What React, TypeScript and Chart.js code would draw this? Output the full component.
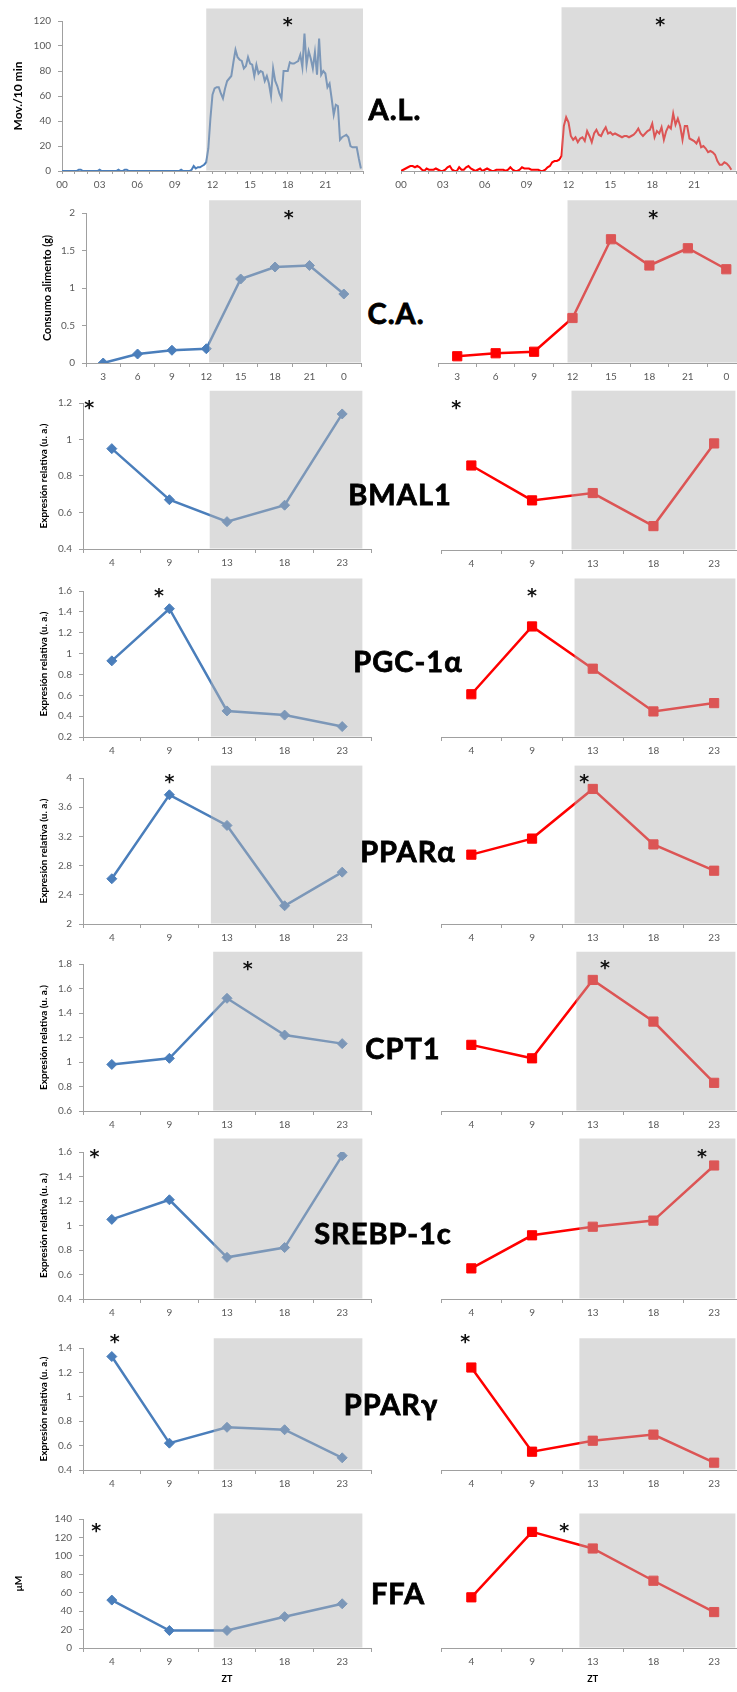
import React, { useEffect, useRef } from "react";
import { Chart, registerables } from "chart.js";

Chart.register(...registerables);

const FONT = "Lato, 'Open Sans', 'DejaVu Sans', sans-serif";
const BLUE = "#4a7ebb";
const RED = "#ff0000";
const AXIS = "#a0a0a0";
const TICK = "#595959";
const SHADE = "rgba(181,181,181,0.47)";

// ---------------- data ----------------
// A.L. : movements per 10 min bin, 24 h (bin index / 6 = hour)
const alTickHours = [0, 3, 6, 9, 12, 15, 18, 21];
const alTickLabels = ["00", "03", "06", "09", "12", "15", "18", "21"];
const alYTicks = [0, 20, 40, 60, 80, 100, 120];
const alControl = [
  0, 0, 0, 0, 0, 0, 0, 0, 1, 1,
  0, 0, 0, 0, 0, 0, 0, 0, 1, 0,
  0, 0, 0, 0, 0, 0, 0, 1, 0, 0,
  1, 1, 0, 0, 0, 0, 0, 0, 0, 0,
  0, 0, 0, 0, 0, 0, 0, 0, 0, 0,
  0, 0, 0, 0, 0, 0, 0, 1, 0, 0,
  0, 0, 1, 4, 2, 3, 3, 4, 5, 7,
  18, 42, 61, 66, 67, 67, 62, 58, 66, 72,
  74, 76, 87, 97, 91, 89, 88, 82, 84, 91,
  86, 85, 76, 85, 78, 80, 79, 72, 76, 70,
  60, 82, 72, 68, 62, 58, 80, 80, 80, 87,
  86, 86, 87, 88, 93, 83, 110, 85, 96, 90,
  82, 95, 77, 106, 77, 80, 78, 67, 70, 58,
  45, 53, 52, 25, 27, 28, 29, 27, 20, 19,
  19, 19, 10, 2,
];
const alTreated = [
  0, 1, 2, 3, 4, 4, 3, 4, 3, 1,
  0, 2, 1, 1, 1, 2, 1, 0, 0, 1,
  3, 4, 1, 0, 0, 3, 1, 1, 3, 4,
  2, 1, 0, 1, 2, 0, 1, 2, 1, 0,
  0, 1, 1, 1, 1, 0, 1, 3, 1, 0,
  0, 1, 3, 2, 2, 2, 1, 1, 1, 1,
  0, 0, 1, 3, 4, 7, 8, 8, 9, 12,
  36, 43, 39, 28, 25, 27, 23, 26, 27, 24,
  32, 28, 23, 30, 33, 29, 28, 32, 35, 30,
  31, 29, 30, 29, 28, 27, 28, 28, 27, 28,
  29, 31, 34, 30, 28, 30, 32, 33, 38, 27,
  32, 30, 35, 25, 32, 36, 34, 46, 37, 42,
  36, 25, 36, 36, 26, 25, 24, 22, 26, 19,
  20, 18, 15, 16, 15, 13, 8, 5, 5, 7,
  6, 4, 1,
];
const alHourMarks = [0, 1, 2, 3, 4, 5, 6, 7, 8, 9, 10, 11, 12, 13, 14, 15, 16, 17, 18, 19, 20, 21, 22, 23, 24];

// C.A. : food intake (g)
const caTimes = ["3", "6", "9", "12", "15", "18", "21", "0"];
const caYTicks = [0, 0.5, 1, 1.5, 2];
const caControl = [0, 0.12, 0.17, 0.19, 1.12, 1.28, 1.3, 0.92];
const caTreated = [0.09, 0.13, 0.15, 0.6, 1.65, 1.3, 1.53, 1.25];

// gene expression, ZT
const geneTimes = ["4", "9", "13", "18", "23"];
const bmal1YTicks = [0.4, 0.6, 0.8, 1, 1.2];
const bmal1Control = [0.95, 0.67, 0.55, 0.64, 1.14];
const bmal1Treated = [0.86, 0.67, 0.71, 0.53, 0.98];
const pgcYTicks = [0.2, 0.4, 0.6, 0.8, 1, 1.2, 1.4, 1.6];
const pgcControl = [0.93, 1.43, 0.45, 0.41, 0.3];
const pgcTreated = [0.61, 1.26, 0.855, 0.445, 0.525];
const pparaYTicks = [2, 2.4, 2.8, 3.2, 3.6, 4];
const pparaControl = [2.62, 3.77, 3.35, 2.25, 2.71];
const pparaTreated = [2.95, 3.17, 3.85, 3.09, 2.73];
const cpt1YTicks = [0.6, 0.8, 1, 1.2, 1.4, 1.6, 1.8];
const cpt1Control = [0.98, 1.03, 1.52, 1.22, 1.15];
const cpt1Treated = [1.14, 1.03, 1.67, 1.33, 0.83];
const srebpYTicks = [0.4, 0.6, 0.8, 1, 1.2, 1.4, 1.6];
const srebpControl = [1.05, 1.21, 0.74, 0.82, 1.57];
const srebpTreated = [0.65, 0.92, 0.99, 1.04, 1.49];
const ppargYTicks = [0.4, 0.6, 0.8, 1, 1.2, 1.4];
const ppargControl = [1.33, 0.62, 0.75, 0.73, 0.5];
const ppargTreated = [1.24, 0.55, 0.64, 0.69, 0.46];
const ffaYTicks = [0, 20, 40, 60, 80, 100, 120, 140];
const ffaControl = [52, 19, 19, 34, 48];
const ffaTreated = [55, 126, 108, 73, 39];

// dark phase shading: [from x, to x, top y value]
const alDarkC = [11.5, 24, 130];
const alDarkT = [11.5, 24, 131];
const caDarkC = [3.08, 7.5, 2.17];
const caDarkT = [2.87, 7.5, 2.17];
const bmal1DarkC = [1.7, 4.35, 1.267];
const bmal1DarkT = [1.65, 4.35, 1.267];
const pgcDarkC = [1.72, 4.35, 1.72];
const pgcDarkT = [1.7, 4.35, 1.72];
const pparaDarkC = [1.72, 4.35, 4.17];
const pparaDarkT = [1.7, 4.35, 4.17];
const cpt1DarkC = [1.76, 4.35, 1.9];
const cpt1DarkT = [1.73, 4.35, 1.9];
const srebpDarkC = [1.77, 4.35, 1.71];
const srebpDarkT = [1.78, 4.35, 1.71];
const ppargDarkC = [1.77, 4.35, 1.48];
const ppargDarkT = [1.78, 4.35, 1.48];
const ffaDarkC = [1.77, 4.35, 146];
const ffaDarkT = [1.78, 4.35, 146];

// significance asterisks: [x, y value]
const alStarC = [18, 119];
const alStarT = [18.57, 119];
const caStarC = [5.4, 1.98];
const caStarT = [5.1, 1.98];
const bmal1StarC = [-0.39, 1.19];
const bmal1StarT = [-0.25, 1.19];
const pgcStarC = [0.82, 1.58];
const pgcStarT = [1.0, 1.58];
const pparaStarC = [1.0, 3.98];
const pparaStarT = [1.86, 3.98];
const cpt1StarC = [2.36, 1.78];
const cpt1StarT = [2.2, 1.79];
const srebpStarC = [-0.3, 1.58];
const srebpStarT = [3.8, 1.58];
const ppargStarC = [0.05, 1.47];
const ppargStarT = [-0.1, 1.47];
const ffaStarC = [-0.27, 130];
const ffaStarT = [1.53, 130];

const rowLabels = ["A.L.", "C.A.", "BMAL1", "PGC-1α", "PPARα", "CPT1", "SREBP-1c", "PPARγ", "FFA"];

// ---------------- layout ----------------
const EXPR = "Expresión relativa (u. a.)";
const labelPos = [
  [395, 108], [396, 312], [400, 493], [408, 660], [408, 850],
  [403, 1047], [383, 1232], [391, 1403], [398, 1592],
];
const TOP_ROOM = 32;
const BOTTOM_ROOM = 40;
const GL = [83, 371];
const GR = [440.5, 745.5];

type Panel = {
  id: string;
  kind: "time" | "cat";
  side: "L" | "R";
  plot: number[];
  labels?: string[];
  values: number[];
  yTicks: number[];
  band: number[];
  star: number[];
  yTitle?: string;
  yTitleSize?: number;
  yTitleX?: number;
  xTitle?: string;
};

function gene(id: string, side: "L" | "R", y0: number, y1: number, values: number[], yTicks: number[], band: number[], star: number[], yTitle = EXPR, titleX = 44, xTitle?: string): Panel {
  const xr = side === "L" ? GL : GR;
  return { id, kind: "cat", side, plot: [xr[0], xr[1], y0, y1], labels: geneTimes, values, yTicks, band, star, yTitle: side === "L" ? yTitle : undefined, yTitleSize: 10, yTitleX: titleX, xTitle };
}

const panels: Panel[] = [
  { id: "al-c", kind: "time", side: "L", plot: [62, 363, 21, 171], values: alControl, yTicks: alYTicks, band: alDarkC, star: alStarC, yTitle: "Mov./10 min", yTitleSize: 12, yTitleX: 18 },
  { id: "al-t", kind: "time", side: "R", plot: [401, 736, 21, 171], values: alTreated, yTicks: alYTicks, band: alDarkT, star: alStarT },
  { id: "ca-c", kind: "cat", side: "L", plot: [86, 361, 213, 363], labels: caTimes, values: caControl, yTicks: caYTicks, band: caDarkC, star: caStarC, yTitle: "Consumo alimento (g)", yTitleSize: 11, yTitleX: 47 },
  { id: "ca-t", kind: "cat", side: "R", plot: [438, 747, 213, 363], labels: caTimes, values: caTreated, yTicks: caYTicks, band: caDarkT, star: caStarT },
  gene("bmal1-c", "L", 403, 549, bmal1Control, bmal1YTicks, bmal1DarkC, bmal1StarC),
  gene("bmal1-t", "R", 403, 550, bmal1Treated, bmal1YTicks, bmal1DarkT, bmal1StarT),
  gene("pgc-c", "L", 591, 737, pgcControl, pgcYTicks, pgcDarkC, pgcStarC),
  gene("pgc-t", "R", 591, 737, pgcTreated, pgcYTicks, pgcDarkT, pgcStarT),
  gene("ppara-c", "L", 778, 924, pparaControl, pparaYTicks, pparaDarkC, pparaStarC),
  gene("ppara-t", "R", 778, 924, pparaTreated, pparaYTicks, pparaDarkT, pparaStarT),
  gene("cpt1-c", "L", 964, 1111, cpt1Control, cpt1YTicks, cpt1DarkC, cpt1StarC),
  gene("cpt1-t", "R", 964, 1111, cpt1Treated, cpt1YTicks, cpt1DarkT, cpt1StarT),
  gene("srebp-c", "L", 1152, 1299, srebpControl, srebpYTicks, srebpDarkC, srebpStarC),
  gene("srebp-t", "R", 1152, 1299, srebpTreated, srebpYTicks, srebpDarkT, srebpStarT),
  gene("pparg-c", "L", 1348, 1470, ppargControl, ppargYTicks, ppargDarkC, ppargStarC),
  gene("pparg-t", "R", 1348, 1470, ppargTreated, ppargYTicks, ppargDarkT, ppargStarT),
  gene("ffa-c", "L", 1519, 1648, ffaControl, ffaYTicks, ffaDarkC, ffaStarC, "μM", 19, "ZT"),
  gene("ffa-t", "R", 1519, 1648, ffaTreated, ffaYTicks, ffaDarkT, ffaStarT, "μM", 19, "ZT"),
];

function geom(p: Panel) {
  const [x0, x1, y0, y1] = p.plot;
  const left = p.side === "L" ? 0 : x0 - 12;
  const top = y0 - TOP_ROOM;
  return { left, top, width: Math.round(x1 - left + 6), height: Math.round(y1 - top + BOTTOM_ROOM) };
}

// ---------------- plugins ----------------
const darkPhasePlugin = {
  id: "darkPhase",
  afterDatasetsDraw(chart: any, _args: any, opts: any) {
    const band = opts.band as number[];
    if (!band) return;
    const { ctx, scales } = chart;
    const x = scales.x;
    const y = scales.y;
    const l = x.getPixelForValue(band[0]);
    const r = x.getPixelForValue(band[1]);
    const t = y.getPixelForValue(band[2]);
    const b = y.getPixelForValue(y.min) - 0.5;
    ctx.save();
    ctx.fillStyle = SHADE;
    ctx.fillRect(l, t, r - l, b - t);
    ctx.restore();
  },
};

const starPlugin = {
  id: "star",
  afterDraw(chart: any, _args: any, opts: any) {
    const s = opts.pos as number[];
    if (!s) return;
    const { ctx, scales } = chart;
    const px = scales.x.getPixelForValue(s[0]);
    const py = scales.y.getPixelForValue(s[1]);
    ctx.save();
    ctx.font = "bold 19px 'DejaVu Sans', sans-serif";
    ctx.fillStyle = "#111";
    ctx.textAlign = "center";
    ctx.textBaseline = "alphabetic";
    const m = ctx.measureText("*");
    ctx.fillText("*", px, py + (m.actualBoundingBoxAscent - m.actualBoundingBoxDescent) / 2);
    ctx.restore();
  },
};

function buildConfig(p: Panel): any {
  const isLeft = p.side === "L";
  const color = isLeft ? BLUE : RED;
  const g = geom(p);
  const [x0] = p.plot;
  const tickFont = { size: 10, family: FONT };

  const dataset =
    p.kind === "time"
      ? {
          data: p.values.map((v, i) => ({ x: i / 6, y: v })),
          borderColor: color,
          borderWidth: 2,
          pointRadius: 0,
          tension: 0,
        }
      : {
          data: p.values,
          borderColor: color,
          backgroundColor: color,
          borderWidth: 2.5,
          pointStyle: isLeft ? "rectRot" : "rect",
          pointRadius: isLeft ? 5 : 6.5,
          pointHoverRadius: isLeft ? 5 : 6.5,
          pointBackgroundColor: color,
          pointBorderColor: color,
          pointBorderWidth: 1,
          tension: 0,
        };

  const xFit = (s: any) => {
    s.height = BOTTOM_ROOM;
  };

  const xScale: any =
    p.kind === "time"
      ? {
          type: "linear",
          min: 0,
          max: 24,
          afterBuildTicks: (s: any) => {
            s.ticks = alHourMarks.map((v) => ({ value: v }));
          },
          ticks: {
            autoSkip: false,
            maxRotation: 0,
            color: TICK,
            font: tickFont,
            padding: 5,
            callback: (v: number) => {
              const k = alTickHours.indexOf(v);
              return k >= 0 ? alTickLabels[k] : "";
            },
          },
          grid: { display: true, drawOnChartArea: false, drawTicks: true, tickLength: 3, color: AXIS },
          border: { display: true, color: AXIS },
          afterFit: xFit,
        }
      : {
          type: "category",
          offset: true,
          ticks: { autoSkip: false, maxRotation: 0, color: TICK, font: tickFont, padding: 4 },
          grid: { display: true, drawOnChartArea: false, drawTicks: true, tickLength: 4, color: AXIS, offset: true },
          border: { display: true, color: AXIS },
          title: p.xTitle
            ? { display: true, text: p.xTitle, color: "#000", font: { size: 9, weight: "bold", family: FONT }, padding: { top: 0, bottom: 3.6 } }
            : { display: false },
          afterFit: xFit,
        };

  const ts = p.yTitleSize || 10;
  const yScale: any = {
    type: "linear",
    display: isLeft,
    min: p.yTicks[0],
    max: p.yTicks[p.yTicks.length - 1],
    afterBuildTicks: (s: any) => {
      s.ticks = p.yTicks.map((v) => ({ value: v }));
    },
    ticks: { color: TICK, font: tickFont, padding: 7, callback: (v: number) => String(v) },
    grid: { display: true, drawOnChartArea: false, drawTicks: true, tickLength: 4, color: AXIS },
    border: { display: true, color: AXIS },
    title: p.yTitle
      ? {
          display: true,
          text: p.yTitle,
          color: "#000",
          font: { size: ts, weight: "bold", family: FONT },
          padding: { top: (p.yTitleX || 40) - ts * 0.6, bottom: 0 },
        }
      : { display: false },
    afterFit: (s: any) => {
      if (isLeft) s.width = x0 - g.left;
    },
  };

  return {
    type: "line",
    data: {
      labels: p.kind === "cat" ? p.labels : undefined,
      datasets: [dataset],
    },
    options: {
      responsive: false,
      maintainAspectRatio: false,
      animation: false,
      events: [],
      layout: {
        padding: {
          left: isLeft ? 0 : x0 - g.left,
          right: g.width - (p.plot[1] - g.left),
          top: TOP_ROOM,
          bottom: 0,
        },
      },
      plugins: {
        legend: { display: false },
        tooltip: { enabled: false },
        darkPhase: { band: p.band },
        star: { pos: p.star },
      },
      scales: { x: xScale, y: yScale },
    },
    plugins: [darkPhasePlugin, starPlugin],
  };
}

function PanelChart({ p }: { p: Panel }) {
  const ref = useRef<HTMLCanvasElement | null>(null);
  useEffect(() => {
    if (!ref.current) return;
    const chart = new Chart(ref.current, buildConfig(p));
    return () => chart.destroy();
  }, [p]);
  const g = geom(p);
  return (
    <canvas
      ref={ref}
      width={g.width}
      height={g.height}
      style={{ position: "absolute", left: g.left, top: g.top, width: g.width, height: g.height }}
    />
  );
}

export default function App() {
  return (
    <div
      style={{
        position: "absolute",
        left: 0,
        top: 0,
        width: 737,
        height: 1692,
        overflow: "hidden",
        background: "#fff",
      }}
    >
      {panels.map((p) => (
        <PanelChart key={p.id} p={p} />
      ))}
      {rowLabels.map((t, i) => (
        <div
          key={t}
          style={{
            position: "absolute",
            left: labelPos[i][0],
            top: labelPos[i][1],
            transform: "translate(-50%, -50%)",
            fontFamily: FONT,
            fontWeight: 700,
            fontSize: 29,
            lineHeight: 1,
            letterSpacing: 1,
            whiteSpace: "nowrap",
            color: "#000",
            WebkitTextStroke: "0.8px #000",
          }}
        >
          {t}
        </div>
      ))}
    </div>
  );
}
